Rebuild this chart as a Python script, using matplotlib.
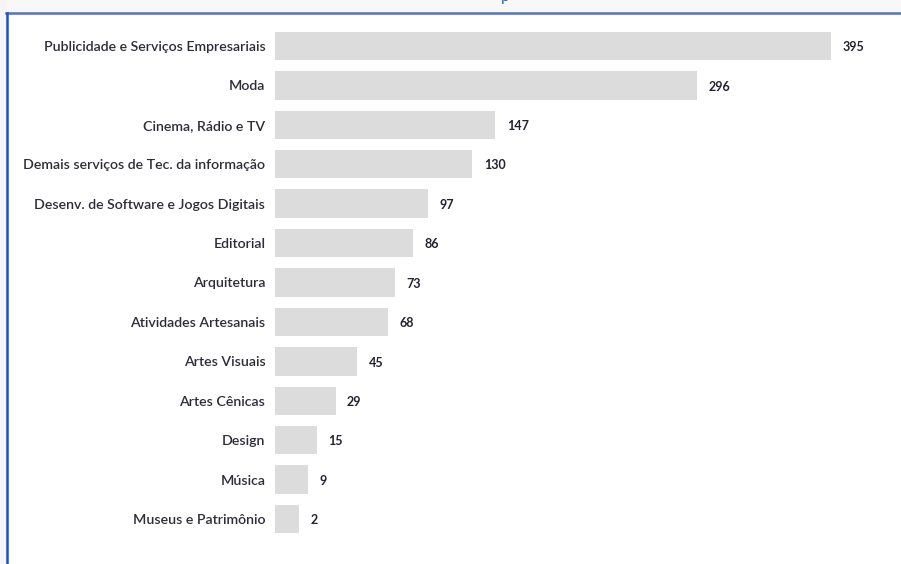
import numpy as np
import matplotlib
matplotlib.use("Agg")
import matplotlib.pyplot as plt
from matplotlib.patches import Rectangle
from matplotlib.lines import Line2D

categories = ["Publicidade e Serviços Empresariais", "Moda", "Cinema, Rádio e TV",
              "Demais serviços de Tec. da informação", "Desenv. de Software e Jogos Digitais",
              "Editorial", "Arquitetura", "Atividades Artesanais", "Artes Visuais",
              "Artes Cênicas", "Design", "Música", "Museus e Patrimônio"]
values = [395, 296, 147, 130, 97, 86, 73, 68, 45, 29, 15, 9, 2]

plt.rcParams['font.family'] = ['Lato', 'DejaVu Sans']

W, H = 901, 564
fig = plt.figure(figsize=(W / 100, H / 100), dpi=100)

# page frame: grey strips, blue rules
fig.patches.append(Rectangle((0, 1 - 12 / H), 1, 12 / H, transform=fig.transFigure,
                             color='#f8f8f8', zorder=0))
fig.patches.append(Rectangle((0, 0), 6 / W, 1, transform=fig.transFigure,
                             color='#f5f5f5', zorder=0))
fig.lines.append(Line2D([6 / W, 1], [1 - 12.5 / H, 1 - 12.5 / H], transform=fig.transFigure,
                        color='#4f74c4', lw=1.8))
fig.lines.append(Line2D([6.5 / W, 6.5 / W], [0, 1 - 12.5 / H], transform=fig.transFigure,
                        color='#1f4fc8', lw=1.8))
# tail of the cut-off title above the frame
fig.text(505 / W, 1 - 1.5 / H, "p", color='#2f5fc0', fontsize=11, ha='center', va='baseline')

# bars start a bit left of zero, as in the original
base = 15.7
px_per_unit = 1.354
ax_left, ax_right = 275, 885
top, bottom = 26.3, 538.7
ax = fig.add_axes([ax_left / W, 1 - bottom / H, (ax_right - ax_left) / W, (bottom - top) / H])
ax.set_xlim(-base, -base + (ax_right - ax_left) / px_per_unit)
y = np.arange(len(categories))
ax.barh(y, np.array(values) + base, left=-base, height=0.72, color='#dcdcdc')
ax.set_ylim(len(categories) - 0.5, -0.5)

for yi, v in zip(y, values):
    ax.text(v + 8.5, yi + 0.03, str(v), va='center', ha='left', fontsize=9,
            fontweight='bold', color='#222233')

ax.set_yticks(y)
ax.set_yticklabels(categories, fontsize=10.2, fontweight='semibold', color='#2d2d38')
ax.tick_params(axis='y', length=0, pad=7)
ax.set_xticks([])
for s in ax.spines.values():
    s.set_visible(False)

fig.savefig("out.png", dpi=100)
